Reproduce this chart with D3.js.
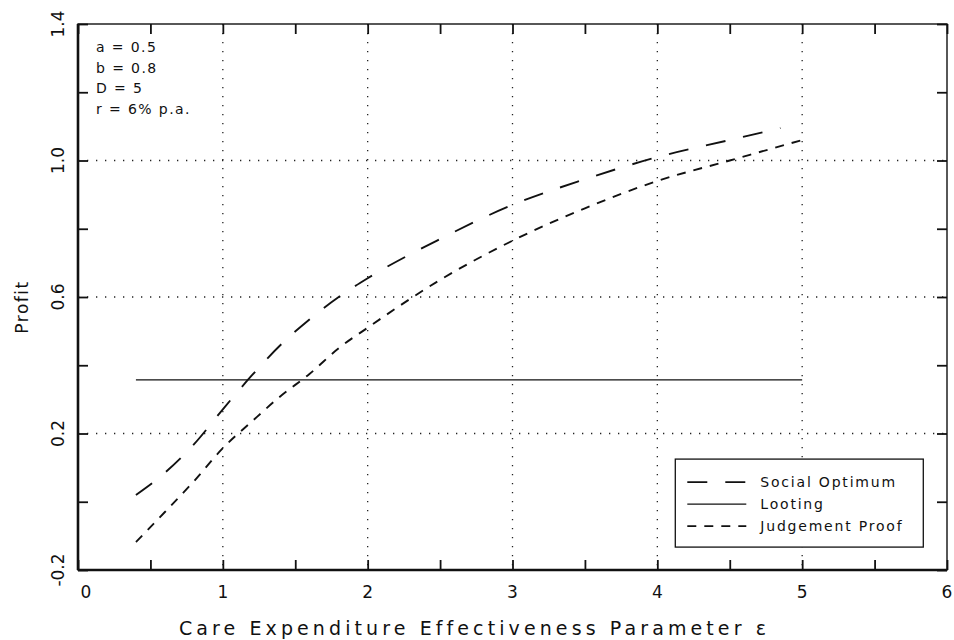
<!DOCTYPE html>
<html>
<head>
<meta charset="utf-8">
<script src="https://cdn.jsdelivr.net/npm/d3@7"></script>
<style>
  body { margin: 0; background: #fff; }
  text { font-family: "DejaVu Sans", sans-serif; fill: #111; }
  .grid line { stroke: #222; stroke-width: 1.3; stroke-dasharray: 1.3, 7.7; }
  .axis path, .axis line { stroke: #111; }
</style>
</head>
<body>
<script>
// values
const xSocial = [0.4, 0.6, 0.8, 1.0, 1.2, 1.4, 1.6, 1.8, 2.0, 2.5, 3.0, 3.5, 4.0, 4.5, 4.85]
const social  = [0.02, 0.085, 0.168, 0.271, 0.37, 0.46, 0.535, 0.60, 0.655, 0.77, 0.87, 0.945, 1.01, 1.06, 1.095]
const xJudge  = [0.4, 0.6, 0.8, 1.0, 1.2, 1.4, 1.6, 1.8, 2.0, 2.5, 3.0, 3.5, 4.0, 4.5, 5.0]
const judge   = [-0.118, -0.03, 0.06, 0.157, 0.235, 0.31, 0.375, 0.45, 0.51, 0.65, 0.765, 0.86, 0.94, 1.0, 1.06]
const xLooting = [0.4, 5.0]
const looting  = [0.357, 0.357]

const xTickLabels = [0, 1, 2, 3, 4, 5, 6]
const yTickLabels = [-0.2, 0.2, 0.6, 1.0, 1.4]
const params = ["a = 0.5", "b = 0.8", "D = 5", "r = 6% p.a."]
const legendNames = ["Social Optimum", "Looting", "Judgement Proof"]
const legendDash = ["20,18", null, "9,8"]

const W = 954, H = 640
const margin = { top: 24, right: 7, bottom: 70, left: 78 },
    width = W - margin.left - margin.right,
    height = H - margin.top - margin.bottom;

const x = d3.scaleLinear().domain([0, 6]).range([0, width]);
const y = d3.scaleLinear().domain([-0.2, 1.4]).range([height, 0]);

const svg = d3.select("body").append("svg")
    .attr("width", W).attr("height", H)
    .append("g")
    .attr("transform", "translate(" + margin.left + "," + margin.top + ")");

// dotted grid
svg.append("g").attr("class", "grid")
    .selectAll("line").data([1, 2, 3, 4, 5]).enter().append("line")
    .attr("x1", d => x(d)).attr("x2", d => x(d))
    .attr("y1", 0).attr("y2", height);
svg.append("g").attr("class", "grid")
    .selectAll("line").data([0.2, 0.6, 1.0]).enter().append("line")
    .attr("y1", d => y(d)).attr("y2", d => y(d))
    .attr("x1", 0).attr("x2", width);

// axes with inward ticks
const xt = d3.range(0, 13).map(d => d / 2);
const yt = d3.range(-1, 8).map(d => d / 5);

function styleAxis(g) {
    g.attr("class", "axis");
    g.select(".domain").remove();
    g.selectAll("line").attr("stroke-width", 1.8);
    g.selectAll("text").remove();
}
svg.append("g").attr("transform", "translate(0," + height + ")")
    .call(d3.axisBottom(x).tickValues(xt).tickSize(-10)).call(styleAxis);
svg.append("g")
    .call(d3.axisTop(x).tickValues(xt).tickSize(-10)).call(styleAxis);
svg.append("g")
    .call(d3.axisLeft(y).tickValues(yt).tickSize(-10)).call(styleAxis);
svg.append("g").attr("transform", "translate(" + width + ",0)")
    .call(d3.axisRight(y).tickValues(yt).tickSize(-10)).call(styleAxis);

// frame
svg.append("rect")
    .attr("width", width).attr("height", height)
    .attr("fill", "none").attr("stroke", "#111").attr("stroke-width", 1.4);
svg.append("line").attr("x1", 0).attr("x2", 0).attr("y1", 0).attr("y2", height)
    .attr("stroke", "#111").attr("stroke-width", 2.6);
svg.append("line").attr("x1", 0).attr("x2", width).attr("y1", height).attr("y2", height)
    .attr("stroke", "#111").attr("stroke-width", 2.6);

// tick labels
svg.append("g").selectAll("text").data(xTickLabels).enter().append("text")
    .attr("x", d => x(d) + (d === 0 ? 8 : 0))
    .attr("y", height + 28)
    .attr("text-anchor", "middle")
    .style("font-size", "17px")
    .text(d => d);
svg.append("g").selectAll("text").data(yTickLabels).enter().append("text")
    .attr("transform", d => "translate(-14," + y(d) + ") rotate(-90)")
    .attr("text-anchor", "middle")
    .style("font-size", "17px")
    .text(d => d.toFixed(1));

// axis titles
svg.append("text")
    .attr("transform", "translate(-50," + (height / 2 + 10) + ") rotate(-90)")
    .attr("text-anchor", "middle")
    .style("font-size", "17px").style("letter-spacing", "1.5px")
    .text("Profit");
svg.append("text")
    .attr("x", width / 2 - 38).attr("y", height + 65)
    .attr("text-anchor", "middle")
    .style("font-size", "19px").style("letter-spacing", "4.1px")
    .text("Care Expenditure Effectiveness Parameter ε");

// parameters
svg.append("g").selectAll("text").data(params).enter().append("text")
    .attr("x", 18).attr("y", (d, i) => 28 + i * 20.5)
    .style("font-size", "14px").style("letter-spacing", "1.4px")
    .text(d => d);

// series
const line = d3.line().curve(d3.curveMonotoneX)
    .x(d => x(d[0])).y(d => y(d[1]));
const series = [
    d3.zip(xSocial, social),
    d3.zip(xLooting, looting),
    d3.zip(xJudge, judge)
];
svg.append("g").selectAll("path").data(series).enter().append("path")
    .attr("d", line)
    .attr("fill", "none")
    .attr("stroke", "#111")
    .attr("stroke-width", (d, i) => i === 1 ? 1.3 : 1.9)
    .attr("stroke-dasharray", (d, i) => legendDash[i]);

// legend
const lg = svg.append("g").attr("transform", "translate(" + x(4.124) + "," + y(0.125) + ")");
lg.append("rect")
    .attr("width", 248).attr("height", 88)
    .attr("fill", "#fff").attr("stroke", "#111").attr("stroke-width", 1.3);
const row = lg.selectAll("g.row").data(legendNames).enter().append("g")
    .attr("transform", (d, i) => "translate(0," + (23 + i * 22) + ")");
row.append("line")
    .attr("x1", 12).attr("x2", 71)
    .attr("stroke", "#111")
    .attr("stroke-width", (d, i) => i === 1 ? 1.3 : 1.9)
    .attr("stroke-dasharray", (d, i) => legendDash[i]);
row.append("text")
    .attr("x", 85).attr("y", 5)
    .style("font-size", "14px").style("letter-spacing", "1.8px")
    .text(d => d);
</script>
</body>
</html>
